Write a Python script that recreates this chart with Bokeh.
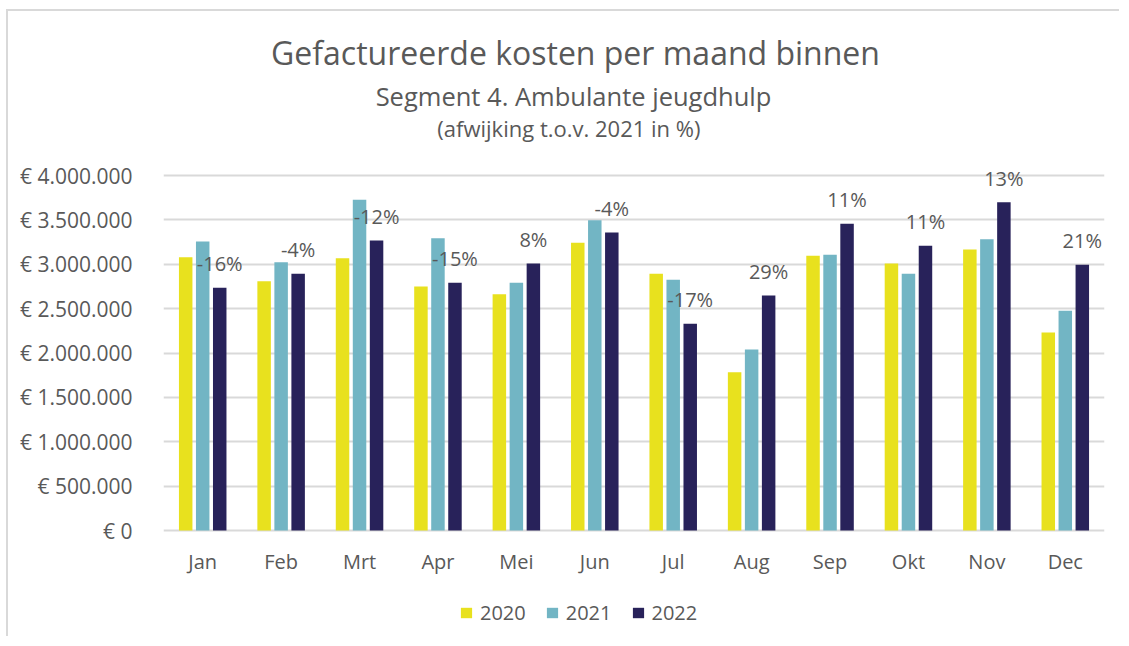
from bokeh.plotting import figure
from bokeh.models import (ColumnDataSource, FactorRange, FixedTicker, Legend, LegendItem,
                          Label, Range1d)
from bokeh.core.properties import value
from bokeh.transform import dodge
from bokeh.embed import file_html
from bokeh.resources import INLINE

months = ["Jan", "Feb", "Mrt", "Apr", "Mei", "Jun", "Jul", "Aug", "Sep", "Okt", "Nov", "Dec"]
v2020 = [3080000, 2809000, 3068000, 2749000, 2663000, 3241000, 2892000, 1784000, 3095000, 3008000, 3166000, 2231000]
v2021 = [3256000, 3023000, 3726000, 3294000, 2791000, 3497000, 2825000, 2039000, 3106000, 2892000, 3283000, 2475000]
v2022 = [2735000, 2892000, 3268000, 2791000, 3008000, 3358000, 2329000, 2648000, 3456000, 3208000, 3700000, 2994000]
pct_labels = ["-16%", "-4%", "-12%", "-15%", "8%", "-4%", "-17%", "29%", "11%", "11%", "13%", "21%"]
series_names = ["2020", "2021", "2022"]
y_ticks = [0, 500000, 1000000, 1500000, 2000000, 2500000, 3000000, 3500000, 4000000]
y_tick_labels = ["€ 0", "€ 500.000", "€ 1.000.000", "€ 1.500.000", "€ 2.000.000",
                 "€ 2.500.000", "€ 3.000.000", "€ 3.500.000", "€ 4.000.000"]

title_main = "Gefactureerde kosten per maand binnen"
title_sub = "Segment 4. Ambulante jeugdhulp"
title_note = "(afwijking t.o.v. 2021 in %)"

colors = ["#E8E11E", "#72B5C4", "#28225A"]
text_color = "#595959"
font = "Open Sans"

src = ColumnDataSource(dict(month=months, v2020=v2020, v2021=v2021, v2022=v2022, pct=pct_labels))

# the plotting frame spans the whole chart area (titles and legend included);
# the value axis only shows ticks 0 .. 4.000.000
p = figure(x_range=FactorRange(*months), y_range=Range1d(-1216900, 5847900),
           width=1113, height=627, output_backend="svg", toolbar_location=None,
           title=None, min_border_left=155, min_border_right=17,
           min_border_top=0, min_border_bottom=0)
p.styles = {"border-left": "2px solid #D9D9D9", "border-top": "2px solid #D9D9D9",
            "margin-left": "6px", "margin-top": "9px"}

p.outline_line_color = None
p.background_fill_color = "white"
p.border_fill_color = "white"

offsets = [-0.217, 0.0, 0.217]
renderers = []
for name, col, off in zip(series_names, colors, offsets):
    r = p.vbar(x=dodge("month", off, range=p.x_range), top="v" + name, width=0.172,
               source=src, fill_color=col, line_color=None)
    renderers.append(r)

# percentage labels above the 2022 bars
p.text(x=dodge("month", 0.217, range=p.x_range), y="v2022", text="pct", source=src,
       text_align="center", text_baseline="middle", y_offset=-24,
       text_font=value(font), text_font_size="20px", text_color=text_color)

# month (category) labels under the zero line
p.text(x="month", y=0, text="month", source=src, text_align="center",
       text_baseline="alphabetic", y_offset=31,
       text_font=value(font), text_font_size="20px", text_color=text_color)

# value axis
p.yaxis.ticker = FixedTicker(ticks=y_ticks)
p.yaxis.major_label_overrides = {t: l for t, l in zip(y_ticks, y_tick_labels)}
p.yaxis.axis_line_color = None
p.yaxis.major_tick_line_color = None
p.yaxis.minor_tick_line_color = None
p.yaxis.major_label_standoff = 25
p.yaxis.major_label_text_font = font
p.yaxis.major_label_text_font_size = "21px"
p.yaxis.major_label_text_color = text_color

p.xaxis.visible = False

p.xgrid.grid_line_color = None
p.ygrid.ticker = FixedTicker(ticks=y_ticks)
p.ygrid.grid_line_color = "#D9D9D9"
p.ygrid.grid_line_width = 2

# titles
for txt, size, xx, yy in [(title_main, "32px", 5.254, 5380300),
                          (title_sub, "25.5px", 5.2285, 4901400),
                          (title_note, "22px", 5.17, 4540800)]:
    p.add_layout(Label(x=xx, y=yy, text=txt, text_align="center", text_baseline="alphabetic",
                       text_font=font, text_font_size=size, text_color=text_color))

legend = Legend(items=[LegendItem(label=n, renderers=[r]) for n, r in zip(series_names, renderers)],
                orientation="horizontal", location=(296, 12),
                glyph_width=14, glyph_height=13, label_standoff=7, spacing=19,
                padding=0, margin=0, border_line_color=None, background_fill_alpha=0,
                label_text_font=font, label_text_font_size="20px", label_text_color=text_color)
p.add_layout(legend, "center")

open("out.html", "w").write(file_html(p, INLINE))
